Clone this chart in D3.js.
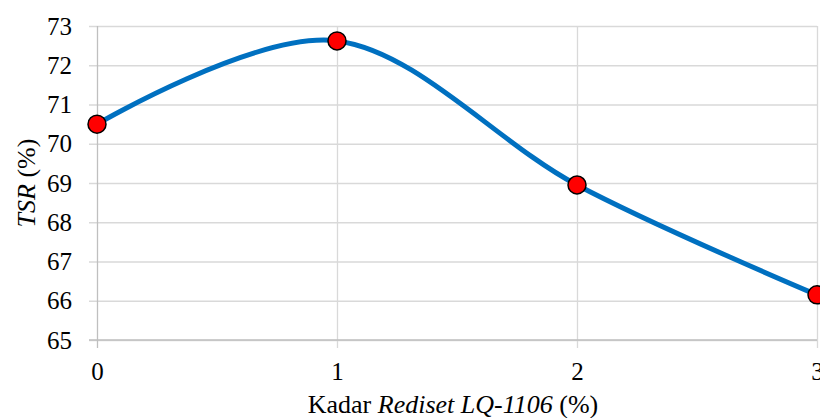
<!DOCTYPE html>
<html>
<head>
<meta charset="utf-8">
<script src="https://cdn.jsdelivr.net/npm/d3@7"></script>
<style>
  html, body { margin: 0; padding: 0; background: #fff; }
  svg { display: block; font-family: "Liberation Serif", "Times New Roman", serif; }
</style>
</head>
<body>
<div id="chart"></div>
<script>
// data
var kadar = [0, 1, 2, 3];
var tsr = [70.5, 72.62, 68.95, 66.15];
var xTicks = [0, 1, 2, 3];
var yTicks = [65, 66, 67, 68, 69, 70, 71, 72, 73];

var width = 820, height = 418;
var margin = {top: 26, right: 3, bottom: 78, left: 97};
var innerW = width - margin.left - margin.right,
    innerH = height - margin.top - margin.bottom;

var svg = d3.select("#chart").append("svg")
    .attr("width", width)
    .attr("height", height);

var g = svg.append("g")
    .attr("transform", `translate(${margin.left},${margin.top})`);

var x = d3.scaleLinear().domain([0, 3]).range([0, innerW]);
var y = d3.scaleLinear().domain([65, 73]).range([innerH, 0]);

// horizontal gridlines with ticks to the left
var yAxis = d3.axisLeft(y)
  .tickValues(yTicks)
  .tickSize(-innerW)
  .tickPadding(25)
  .tickFormat(d3.format("d"));

var gy = g.append("g").call(yAxis);
gy.attr("font-family", null);
gy.select(".domain").remove();
gy.selectAll(".tick line")
  .attr("x1", -8)
  .attr("stroke", "#d9d9d9")
  .attr("stroke-width", 1.3);
gy.selectAll(".tick text")
  .attr("font-size", 25)
  .attr("fill", "#000");

// vertical gridlines with ticks below
var xAxis = d3.axisBottom(x)
  .tickValues(xTicks)
  .tickSize(-innerH)
  .tickPadding(0)
  .tickFormat(d3.format("d"));

var gx = g.append("g")
  .attr("transform", `translate(0,${innerH})`)
  .call(xAxis);
gx.attr("font-family", null);
gx.select(".domain").remove();
gx.selectAll(".tick line")
  .attr("y1", 8)
  .attr("stroke", (d) => d === 0 ? "#bfbfbf" : "#d9d9d9")
  .attr("stroke-width", 1.3);
gx.selectAll(".tick text")
  .attr("y", 0)
  .attr("dy", 40)
  .attr("font-size", 25)
  .attr("fill", "#000");

// bottom axis line
g.append("line")
  .attr("x1", -8).attr("x2", innerW)
  .attr("y1", y(65)).attr("y2", y(65))
  .attr("stroke", "#bfbfbf")
  .attr("stroke-width", 1.3);

var points = kadar.map((k, i) => ({x: k, y: tsr[i]}));

var line = d3.line()
  .x(d => x(d.x))
  .y(d => y(d.y))
  .curve(d3.curveCatmullRom.alpha(0));

g.append("path")
  .datum(points)
  .attr("d", line)
  .attr("fill", "none")
  .attr("stroke", "#0070c0")
  .attr("stroke-width", 5)
  .attr("stroke-linecap", "round");

g.selectAll(".dot")
  .data(points)
  .enter().append("circle")
  .attr("class", "dot")
  .attr("cx", d => x(d.x))
  .attr("cy", d => y(d.y))
  .attr("r", 9)
  .attr("fill", "#ff0000")
  .attr("stroke", "#000")
  .attr("stroke-width", 1.5);

// axis titles
var xt = svg.append("text")
  .attr("x", margin.left + innerW / 2 - 4)
  .attr("y", 413)
  .attr("text-anchor", "middle")
  .attr("font-size", 26)
  .attr("fill", "#000");
xt.append("tspan").text("Kadar ");
xt.append("tspan").attr("font-style", "italic").text("Rediset LQ-1106");
xt.append("tspan").text(" (%)");

var yt = svg.append("text")
  .attr("transform", `translate(35,${margin.top + innerH / 2}) rotate(-90)`)
  .attr("text-anchor", "middle")
  .attr("font-size", 26)
  .attr("fill", "#000");
yt.append("tspan").attr("font-style", "italic").text("TSR");
yt.append("tspan").text(" (%)");
</script>
</body>
</html>
